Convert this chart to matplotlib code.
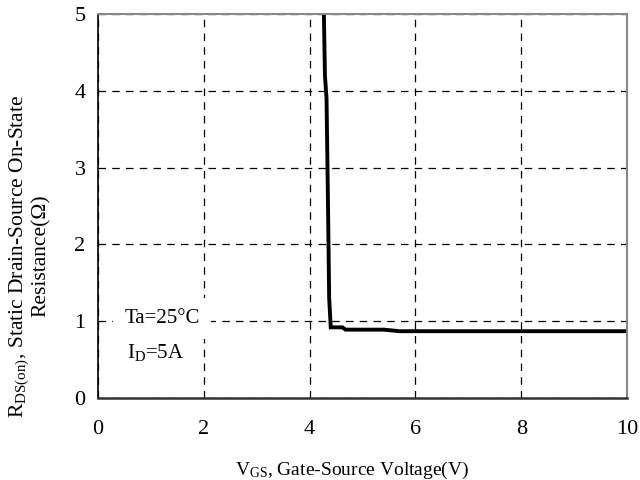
import matplotlib.pyplot as plt

plt.rcParams["font.family"] = ["Liberation Serif", "DejaVu Serif"]
plt.rcParams["mathtext.fontset"] = "custom"
plt.rcParams["mathtext.rm"] = "Liberation Serif"
plt.rcParams["mathtext.it"] = "Liberation Serif"

# on-resistance vs gate-source voltage
vgs = [4.27, 4.29, 4.32, 4.35, 4.37, 4.40, 4.62, 4.68, 5.40, 5.70, 10.0]
rds = [5.0, 4.2, 3.9, 2.4, 1.3, 0.92, 0.92, 0.89, 0.89, 0.87, 0.87]

xticks = [0, 2, 4, 6, 8, 10]
yticks = [0, 1, 2, 3, 4, 5]


def main():
    fig = plt.figure(figsize=(6.4, 4.8), dpi=100)
    ax = fig.add_axes([98 / 640, 82 / 480, 529 / 640, 384 / 480])
    ax.plot(vgs, rds, color="black", lw=2.8, solid_joinstyle="miter")
    ax.set_xlim(0, 10)
    ax.set_ylim(0, 5)
    ax.set_xticks(xticks)
    ax.set_yticks(yticks)
    ax.grid(color="black", ls=(0, (6, 5)), lw=0.9)
    ax.tick_params(length=0, labelsize=16)
    ax.tick_params(axis="x", pad=16)
    ax.tick_params(axis="y", pad=9)
    for s in ["top", "right"]:
        ax.spines[s].set_color("#888888")
        ax.spines[s].set_linewidth(1.5)
    ax.spines["bottom"].set_color("#333333")
    ax.spines["bottom"].set_linewidth(1.8)
    ax.spines["left"].set_color("black")
    ax.spines["left"].set_linewidth(1.2)

    ax.set_xlabel("V$_{\\mathrm{GS}}$, Gate-Source Voltage(V)", fontsize=14)
    ax.xaxis.set_label_coords(0.48, -0.16)
    ax.set_ylabel("R$_{\\mathrm{DS(on)}}$, Static Drain-Source On-State\nResistance(Ω)",
                  fontsize=15.5, linespacing=1.05)
    ax.yaxis.set_label_coords(-0.089, 0.37)

    ax.text(0.5, 1.04, "Ta=25°C", fontsize=15, va="center",
            bbox=dict(fc="white", ec="none", pad=8))
    ax.text(0.55, 0.59, "I$_{\\mathrm{D}}$=5A", fontsize=15, va="center")
    fig.savefig("out.png", dpi=100)


if __name__ == "__main__":
    main()
